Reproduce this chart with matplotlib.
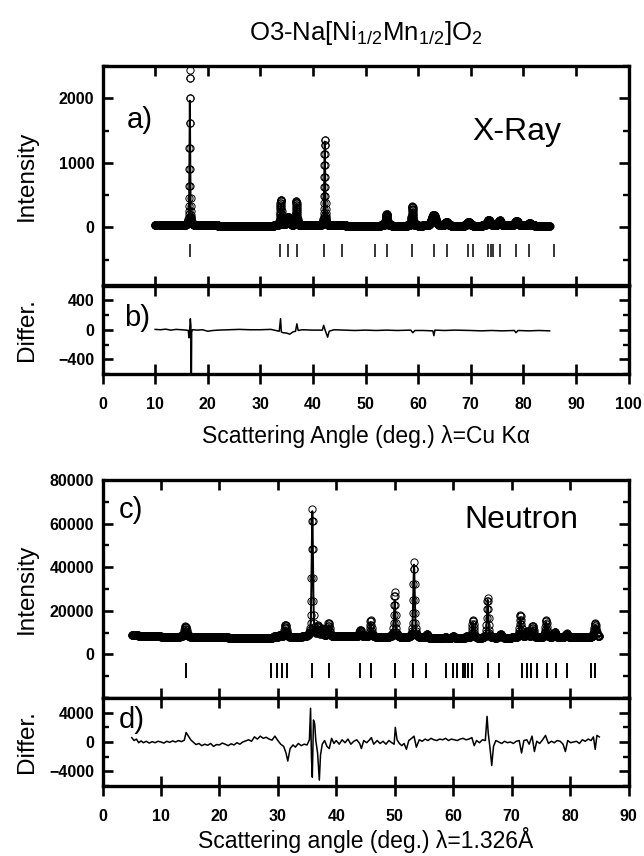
import numpy as np
import matplotlib
matplotlib.use("Agg")
import matplotlib.pyplot as plt
from matplotlib.ticker import MultipleLocator

plt.rcParams["font.family"] = ["Liberation Sans", "DejaVu Sans"]
plt.rcParams["mathtext.default"] = "regular"

# ---------------- X-ray (Cu K-alpha) refinement ----------------
xray_range = (10.0, 85.0)
xray_bg_angle = [10, 20, 30, 40, 50, 60, 70, 85]
xray_bg_level = [40, 30, 25, 30, 28, 25, 25, 28]
xray_peak_pos = [16.6, 33.9, 35.3, 36.85, 42.25, 54.0, 58.9, 62.95, 65.4, 69.6, 73.4, 75.5, 78.7, 81.2]
xray_peak_calc = [1930, 330, 110, 330, 1300, 140, 240, 160, 50, 60, 80, 75, 70, 30]
xray_peak_obs = [2400, 400, 130, 380, 1340, 180, 300, 170, 55, 65, 85, 80, 75, 35]
xray_peak_fwhm = [0.16, 0.3, 0.6, 0.3, 0.2, 0.35, 0.3, 0.9, 0.6, 0.6, 0.7, 0.6, 0.7, 0.6]
xray_bragg = [16.6, 33.8, 35.3, 37.0, 42.1, 45.6, 51.8, 54.0, 58.9, 63.0, 65.4, 69.5,
              70.4, 73.3, 73.8, 74.3, 75.5, 78.7, 81.1, 85.8]
xray_diff_angle = [10.0, 11, 12, 13, 14, 15, 16.0, 16.3, 16.45, 16.55, 16.7, 16.8, 16.85, 16.9, 16.95,
                   17.1, 18, 19, 20, 21, 22, 24, 26, 28, 30, 32, 33.6, 33.85, 34.0, 34.3, 35.0,
                   35.6, 36.2, 36.7, 36.95, 37.2, 38, 40, 41.8, 42.05, 42.3, 42.6, 42.8, 43.1, 44,
                   46, 48, 50, 52, 54, 56, 58.6, 59.0, 59.4, 61, 62.8, 63.0, 63.2, 65, 67, 70, 72,
                   74, 76, 78.3, 78.6, 79, 81, 83, 85]
xray_diff_val = [5, 0, 8, -5, 5, 0, -5, -10, -110, -20, 150, 60, -720, -720, -30,
                 0, -5, 0, -20, -10, -5, 0, 5, 0, 0, 5, -20, 150, -30, -40, -45,
                 -60, -30, -20, 80, -10, 0, -5, -5, 60, 0, -60, -100, -20, 0,
                 -5, -10, -5, -10, -5, -10, -5, -40, -10, -10, -15, -80, -5, -10, -5, -10, -15,
                 -10, -15, -10, -40, -10, -15, -10, -15]

# ---------------- Neutron (1.326 A) refinement ----------------
neut_range = (5.0, 85.0)
neut_bg_angle = [5, 10, 20, 28, 34, 40, 50, 58, 65, 75, 85]
neut_bg_level = [8800, 8200, 7800, 7500, 8000, 8300, 7900, 7300, 7500, 7800, 8000]
neut_peak_pos = [14.2, 29.5, 30.3, 31.3, 35.9, 36.9, 37.6, 38.7, 44.1, 45.9, 50.0, 53.3,
                 55.5, 58.7, 60.0, 62.3, 63.4, 65.9, 68.1, 71.5, 72.7, 73.6, 75.9, 77.4,
                 79.4, 84.3]
neut_peak_calc = [4200, 800, 1000, 4500, 57500, 3800, 3000, 5000, 2800, 6500, 17000, 33500,
                  1500, 600, 1000, 700, 7000, 17500, 1500, 9000, 2500, 4500, 7000, 2000,
                  1500, 5500]
neut_peak_obs = [4900, 900, 1100, 5800, 58500, 4500, 3500, 6200, 3200, 7800, 20500, 34500,
                 1700, 700, 1100, 800, 8300, 18500, 1700, 10500, 2800, 5300, 8100, 2300,
                 1700, 6400]
neut_peak_fwhm = [0.5, 0.4, 0.4, 0.45, 0.28, 0.35, 0.35, 0.35, 0.35, 0.3, 0.3, 0.3,
                  0.4, 0.4, 0.4, 0.4, 0.35, 0.3, 0.4, 0.35, 0.4, 0.35, 0.35, 0.4,
                  0.4, 0.4]
neut_bragg = [14.3, 28.9, 29.9, 30.7, 31.5, 35.9, 38.8, 44.0, 45.9, 50.0, 53.1, 55.4,
              58.8, 59.9, 60.7, 61.6, 62.1, 62.6, 63.3, 65.9, 67.9, 71.7, 72.6, 73.3,
              74.3, 76.1, 77.6, 79.4, 83.5, 84.2]
neut_diff_angle = [5.0, 5.4, 5.8, 6.2, 6.6, 7.0, 7.5, 8.0, 8.5, 9.0, 9.5, 10.0, 10.5, 11.0, 11.5,
                   12.0, 12.5, 13.0, 13.5, 14.0, 14.3, 14.7, 15.1, 15.5, 16.0, 16.5, 17.0, 17.5,
                   18.0, 18.5, 19.0, 19.5, 20.0, 20.5, 21.0, 21.5, 22.0, 22.5, 23.0, 23.5, 24.0,
                   24.5, 25.0, 25.5, 26.0, 26.5, 27.0, 27.5, 28.0, 28.5, 29.0, 29.5, 30.0, 30.5,
                   31.0, 31.4, 31.7, 32.1, 32.6, 33.0, 33.5, 34.0, 34.5, 35.0, 35.4, 35.6, 35.75,
                   35.9, 36.1, 36.3, 36.5, 36.8, 37.1, 37.3, 37.6, 38.0, 38.4, 38.8, 39.2, 39.6,
                   40.0, 40.5, 41.0, 41.5, 42.0, 42.5, 43.0, 43.5, 44.0, 44.3, 44.7, 45.2, 45.7,
                   46.0, 46.4, 47.0, 47.5, 48.0, 48.5, 49.0, 49.5, 49.9, 50.1, 50.4, 50.8, 51.2,
                   51.6, 52.0, 52.4, 52.9, 53.3, 53.7, 54.2, 54.7, 55.2, 55.7, 56.2, 56.7, 57.2,
                   57.7, 58.2, 58.7, 59.2, 59.7, 60.2, 60.7, 61.2, 61.7, 62.2, 62.7, 63.2, 63.6,
                   64.0, 64.5, 65.0, 65.5, 65.8, 66.0, 66.3, 66.6, 66.9, 67.3, 67.8, 68.3, 68.8,
                   69.3, 69.8, 70.3, 70.8, 71.3, 71.7, 72.1, 72.6, 73.0, 73.5, 73.9, 74.3, 74.8,
                   75.3, 75.8, 76.3, 76.8, 77.3, 77.8, 78.3, 78.8, 79.2, 79.6, 80.1, 80.6, 81.1,
                   81.6, 82.1, 82.6, 83.1, 83.6, 84.0, 84.3, 84.6, 85.0]
neut_diff_val = [600, 200, 400, -100, 150, -100, 100, -150, 50, -100, 100, 0, -150, 100, -50,
                 150, 0, 200, 50, 250, 1300, 800, 300, 0, -350, -200, -500, -300,
                 -450, -200, -600, -350, -400, -150, -300, -500, -250, -400, -100, -300, 0,
                 150, 300, 100, 700, 400, 800, 500, 650, 400, 250, 800, 200, -300,
                 -600, -1500, -2600, -900, -400, -700, -200, -500, -300, -400, 300, 4600, -2000,
                 -4800, 3000, 2500, 200, -1500, -5200, -1800, -300, 200, -600, -900, 500, -200,
                 200, -300, 300, -100, 400, -300, 100, 300, -200, -900, 200, -100, 300,
                 600, -300, 200, -200, 100, -300, 200, -100, -300, 2000, 300, -200, -500,
                 -200, -1000, 200, 500, 800, -700, 300, 100, 400, 200, 500, 300, 200,
                 400, 300, 500, 200, 400, 300, 200, 400, 500, 300, 400, 600, -500,
                 200, -100, 300, 200, 3500, 1200, -800, -3200, -600, 200, 0, -200, 100,
                 -100, 0, -200, 100, 200, -1500, 200, 300, -300, 800, -1300, 100, -200,
                 300, 900, -200, 100, -100, 200, 100, -300, -1300, 200, -100, 0, 100,
                 -200, 300, 100, 400, 200, 700, -1000, 900, 700]

# ----------------------------------------------------------------


def pseudo_voigt(x, pos, height, fwhm, eta=0.45):
    hw = fwhm / 2.0
    lor = 1.0 / (1.0 + ((x - pos) / hw) ** 2)
    gau = np.exp(-np.log(2.0) * ((x - pos) / hw) ** 2)
    return height * (eta * lor + (1 - eta) * gau)


def profile(x, bg_angle, bg_level, pos, height, fwhm):
    y = np.interp(x, bg_angle, bg_level)
    for p, h, w in zip(pos, height, fwhm):
        y = y + pseudo_voigt(x, p, h, w)
    return y


FIG_W, FIG_H = 644, 856
fig = plt.figure(figsize=(FIG_W / 100, FIG_H / 100), dpi=100)

LEFT, RIGHT = 102.5, 628.5


def add_axes(top_px, bottom_px):
    return fig.add_axes([LEFT / FIG_W, 1 - bottom_px / FIG_H,
                         (RIGHT - LEFT) / FIG_W, (bottom_px - top_px) / FIG_H])


ax_a = add_axes(66, 285.5)
ax_b = add_axes(285.5, 374)
ax_c = add_axes(480, 698)
ax_d = add_axes(698, 786)

SPINE_W = 2.4
TICK_SIZE = 11.5


def style(ax, xmax, ymaj, ymin_step, main):
    for s in ax.spines.values():
        s.set_linewidth(SPINE_W)
    ax.set_xlim(0, xmax)
    ax.xaxis.set_major_locator(MultipleLocator(10))
    ax.yaxis.set_major_locator(MultipleLocator(ymaj))
    ax.yaxis.set_minor_locator(MultipleLocator(ymin_step))
    ax.tick_params(axis="y", which="major", direction="in", length=7.5, width=1.9,
                   left=True, right=True, pad=6)
    ax.tick_params(axis="y", which="minor", direction="in", length=4, width=1.7,
                   left=True, right=True)
    if main:
        ax.tick_params(axis="x", which="major", direction="in", length=7.5, width=1.9,
                       top=True, bottom=False, labelbottom=False)
    else:
        ax.tick_params(axis="x", which="major", direction="inout", length=14.5, width=1.9,
                       top=True, bottom=True, pad=9)


MARK = dict(marker="o", ms=5.2, mfc="none", mec="black", mew=0.7, ls="none")

# --- panel a: X-ray pattern ---
x_obs = np.arange(xray_range[0], xray_range[1] + 1e-9, 0.02)
x_fine = np.arange(xray_range[0], xray_range[1] + 1e-9, 0.005)
y_obs = profile(x_obs, xray_bg_angle, xray_bg_level, xray_peak_pos, xray_peak_obs, xray_peak_fwhm)
y_calc = profile(x_fine, xray_bg_angle, xray_bg_level, xray_peak_pos, xray_peak_calc, xray_peak_fwhm)
ax_a.plot(x_obs, y_obs, **MARK)
ax_a.plot(x_fine, y_calc, color="black", lw=1.4)
ax_a.vlines(xray_bragg, -460, -250, color="black", lw=1.1)
style(ax_a, 100, 1000, 500, True)
ax_a.set_ylim(-900, 2500)
ax_a.set_yticks([0, 1000, 2000])
ax_a.text(0.071, 0.754, "a)", transform=ax_a.transAxes, fontsize=21, ha="center", va="center")
ax_a.text(0.787, 0.70, "X-Ray", transform=ax_a.transAxes, fontsize=23, ha="center", va="center")

# --- panel b: X-ray difference ---
ax_b.plot(xray_diff_angle, xray_diff_val, color="black", lw=1.1)
style(ax_b, 100, 400, 200, False)
ax_b.set_ylim(-600, 600)
ax_b.set_yticks([-400, 0, 400])
ax_b.text(0.065, 0.633, "b)", transform=ax_b.transAxes, fontsize=21, ha="center", va="center")

# --- panel c: neutron pattern ---
n_obs = np.arange(neut_range[0], neut_range[1] + 1e-9, 0.05)
n_fine = np.arange(neut_range[0], neut_range[1] + 1e-9, 0.01)
ny_obs = profile(n_obs, neut_bg_angle, neut_bg_level, neut_peak_pos, neut_peak_obs, neut_peak_fwhm)
ny_calc = profile(n_fine, neut_bg_angle, neut_bg_level, neut_peak_pos, neut_peak_calc, neut_peak_fwhm)
ax_c.plot(n_obs, ny_obs, **MARK)
ax_c.plot(n_fine, ny_calc, color="black", lw=1.4)
ax_c.vlines(neut_bragg, -11000, -4000, color="black", lw=1.4)
style(ax_c, 90, 20000, 10000, True)
ax_c.set_ylim(-20000, 80000)
ax_c.set_yticks([0, 20000, 40000, 60000, 80000])
ax_c.text(0.055, 0.862, "c)", transform=ax_c.transAxes, fontsize=21, ha="center", va="center")
ax_c.text(0.797, 0.817, "Neutron", transform=ax_c.transAxes, fontsize=23, ha="center", va="center")

# --- panel d: neutron difference ---
ax_d.plot(neut_diff_angle, neut_diff_val, color="black", lw=1.1)
style(ax_d, 90, 4000, 2000, False)
ax_d.set_ylim(-6000, 6000)
ax_d.set_yticks([-4000, 0, 4000])
ax_d.text(0.055, 0.75, "d)", transform=ax_d.transAxes, fontsize=21, ha="center", va="center")

for ax in (ax_a, ax_b, ax_c, ax_d):
    for lab in ax.get_yticklabels() + ax.get_xticklabels():
        lab.set_fontsize(TICK_SIZE)
        lab.set_fontweight("bold")


# axis titles
def ylab(text, top_px, bottom_px):
    fig.text(27 / FIG_W, 1 - (top_px + bottom_px) / 2 / FIG_H, text, rotation=90,
             ha="center", va="center", fontsize=17.5)


ylab("Intensity", 66, 285.5)
ylab("Differ.", 285.5, 374)
ylab("Intensity", 480, 698)
ylab("Differ.", 698, 786)

xc = (LEFT + RIGHT) / 2 / FIG_W
fig.text(xc, 1 - 436 / FIG_H, "Scattering Angle (deg.) λ=Cu Kα", ha="center", va="center", fontsize=16.5)
fig.text(xc, 1 - 840 / FIG_H, "Scattering angle (deg.) λ=1.326Å", ha="center", va="center", fontsize=16.5)
fig.text(xc, 1 - 33 / FIG_H, r"O3-Na[Ni$_{1/2}$Mn$_{1/2}$]O$_2$", ha="center", va="center", fontsize=18.5)

fig.savefig("out.png", dpi=100)
